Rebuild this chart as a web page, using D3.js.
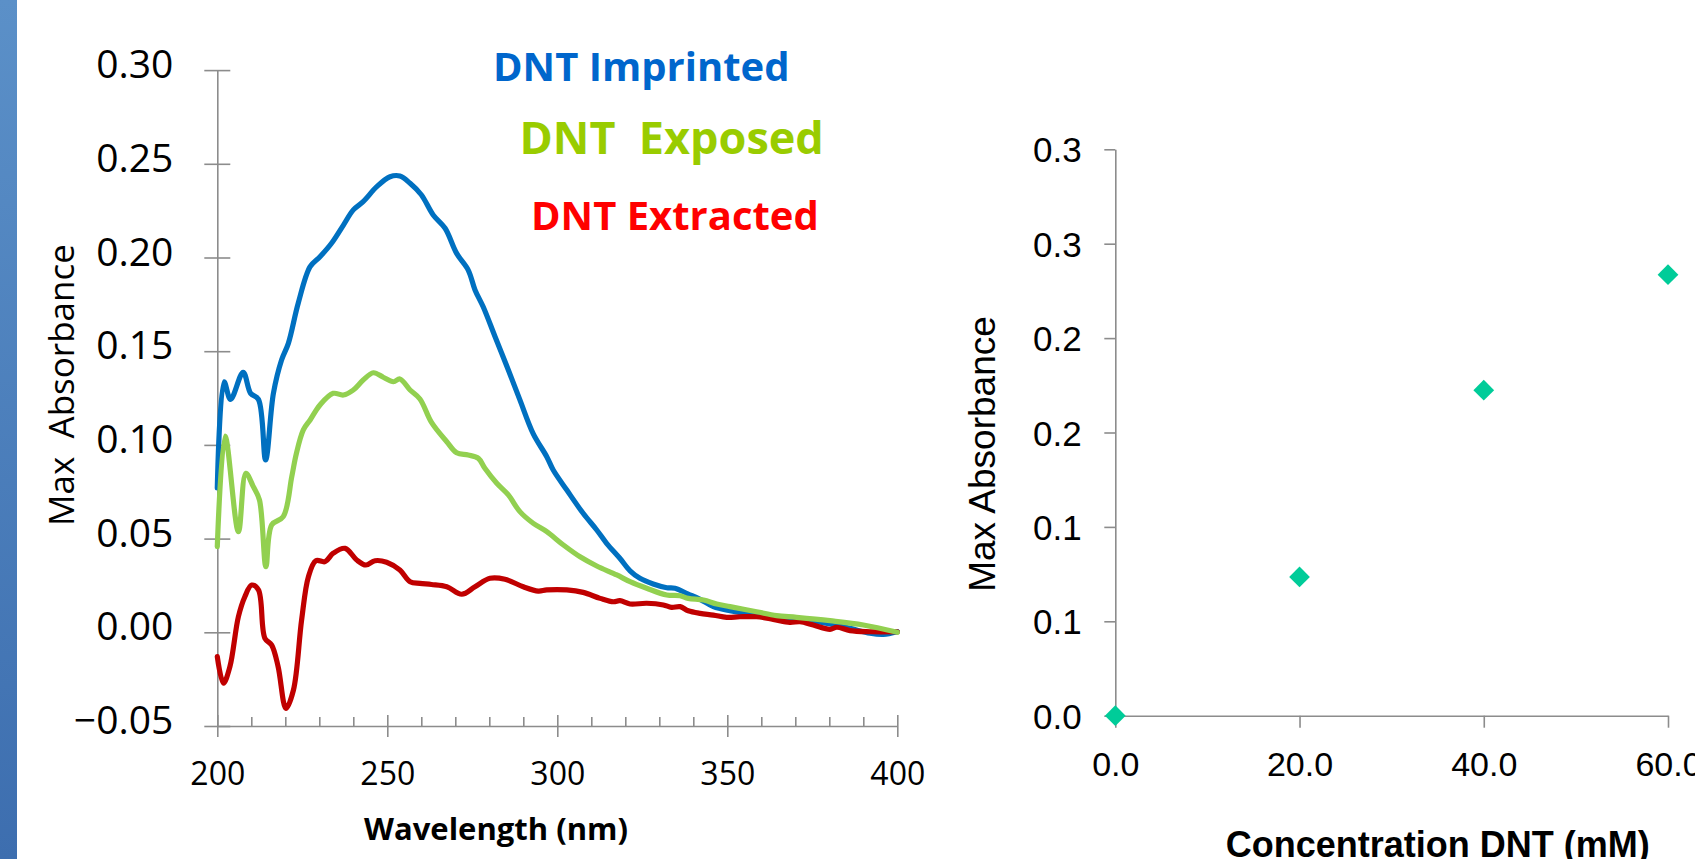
<!DOCTYPE html>
<html>
<head>
<meta charset="utf-8">
<script src="https://cdn.jsdelivr.net/npm/d3@7"></script>
<style>
  html, body { margin: 0; padding: 0; background: #ffffff; }
  svg { display: block; }
</style>
</head>
<body>
<script>
// ---------- Data ----------
// Left chart: UV spectra
const imprintedWl = [200, 202, 203.9, 207.6, 209.8, 212.1, 214.2, 216.5, 218.9, 220.9, 223.8, 227.3, 230.2, 233.6, 237.1, 240, 242.9, 246.9, 250.8, 253.7, 256.7, 260, 263.5, 267, 270.4, 273.8, 275.8, 278.2, 281.7, 285.6, 289, 292.9, 296.9, 298.8, 302.8, 307.6, 311.6, 314.5, 318.4, 321.4, 324.3, 328.2, 332.2, 334.6, 338.5, 342, 345.9, 350.8, 356.7, 365.5, 373.3, 380.2, 386.1, 392, 395.9, 400];
const imprintedAbs = [0.077, 0.1337, 0.1243, 0.1387, 0.1275, 0.1243, 0.092, 0.1275, 0.1453, 0.1542, 0.1756, 0.1951, 0.2004, 0.2076, 0.2173, 0.2254, 0.2298, 0.2378, 0.2431, 0.2435, 0.2396, 0.2335, 0.2227, 0.2156, 0.2022, 0.1933, 0.1827, 0.1737, 0.1577, 0.14, 0.124, 0.106, 0.0937, 0.0866, 0.0759, 0.0635, 0.0546, 0.0475, 0.0395, 0.0328, 0.0288, 0.0258, 0.0238, 0.0235, 0.0204, 0.0176, 0.0137, 0.0115, 0.0098, 0.0083, 0.0066, 0.0044, 0.0021, -0.0005, -0.0011, 0.0003];

const exposedWl = [200, 202.3, 206.2, 208.4, 210.6, 212.4, 214.3, 216, 219.4, 221.9, 223.2, 225.3, 227.3, 230.2, 234.1, 237.1, 240, 242.9, 245.9, 248.8, 251.8, 253.7, 256.7, 259.6, 263, 267.5, 270.4, 273.8, 276.8, 278.7, 282.2, 285.6, 289, 292.9, 296.9, 301.8, 306.7, 311.6, 317.5, 321.4, 326.3, 332.2, 336.1, 338.5, 343, 346.9, 350.8, 358.6, 364.5, 370.4, 380.2, 390, 400];
const exposedAbs = [0.0457, 0.1047, 0.0537, 0.0848, 0.0777, 0.0706, 0.035, 0.0573, 0.0617, 0.083, 0.095, 0.108, 0.1133, 0.1213, 0.1275, 0.1266, 0.1293, 0.1346, 0.1385, 0.1361, 0.1337, 0.1352, 0.1293, 0.1245, 0.112, 0.1017, 0.0958, 0.0946, 0.0928, 0.0875, 0.0795, 0.0733, 0.0644, 0.0582, 0.0537, 0.0466, 0.0403, 0.0354, 0.0306, 0.027, 0.0235, 0.0199, 0.0195, 0.0181, 0.0172, 0.0151, 0.0137, 0.011, 0.0089, 0.008, 0.0062, 0.0039, 0.0];

const extractedWl = [200, 201.8, 203.7, 206.2, 208.1, 210.1, 212.1, 214, 216, 217.9, 220.2, 222.4, 224.8, 226.8, 229, 231.7, 234.1, 237.6, 241, 243.7, 246.4, 249.8, 253.7, 256.7, 259.6, 263, 267.5, 271.9, 275.8, 280.2, 284.6, 290, 294.4, 296.9, 302.8, 307.6, 312.6, 316.5, 318.4, 321.4, 326.3, 331.2, 333.6, 336.1, 338.5, 342, 345.9, 349.8, 353.7, 358.6, 363.5, 368.4, 371.4, 375.3, 380.2, 382.2, 386.1, 392, 400];
const extractedAbs = [-0.013, -0.0272, -0.0184, 0.0083, 0.019, 0.0252, 0.0226, -0.0032, -0.0068, -0.0184, -0.0406, -0.0308, 0.0066, 0.0297, 0.0382, 0.0377, 0.0422, 0.0448, 0.0386, 0.0359, 0.0382, 0.0374, 0.0332, 0.027, 0.0261, 0.0255, 0.0243, 0.0203, 0.0243, 0.0288, 0.0283, 0.0243, 0.022, 0.0226, 0.0226, 0.0213, 0.0181, 0.0163, 0.0169, 0.0151, 0.0155, 0.0146, 0.0133, 0.0137, 0.0115, 0.0101, 0.0092, 0.008, 0.0083, 0.0083, 0.0069, 0.0053, 0.0057, 0.0039, 0.0016, 0.0027, 0.0009, 0.0003, 0.0003];

const seriesNames = ["DNT Imprinted", "DNT  Exposed", "DNT Extracted"];
const leftYTicks = [-0.05, 0, 0.05, 0.10, 0.15, 0.20, 0.25, 0.30];
const leftYTickLabels = ["\u22120.05", "0.00", "0.05", "0.10", "0.15", "0.20", "0.25", "0.30"];
const leftXMajor = [200, 250, 300, 350, 400];
const leftXMinor = [210, 220, 230, 240, 260, 270, 280, 290, 310, 320, 330, 340, 360, 370, 380, 390];

// Right chart: calibration scatter
const concentration = [0, 20, 40, 60];
const maxAbsorbance = [0, 0.0735, 0.1724, 0.2336];
const rightYTicks = [0, 0.05, 0.10, 0.15, 0.20, 0.25, 0.30];
const rightYTickLabels = ["0.0", "0.1", "0.1", "0.2", "0.2", "0.3", "0.3"];
const rightXTicks = [0, 20, 40, 60];
const rightXTickLabels = ["0.0", "20.0", "40.0", "60.0"];

// ---------- Drawing ----------
const W = 1695, H = 859;
const svg = d3.select("body").append("svg").attr("width", W).attr("height", H);

// side bar
const defs = svg.append("defs");
const grad = defs.append("linearGradient").attr("id", "sidebar").attr("x1", 0).attr("y1", 0).attr("x2", 0).attr("y2", 1);
grad.append("stop").attr("offset", "0%").attr("stop-color", "#5b90c8");
grad.append("stop").attr("offset", "100%").attr("stop-color", "#3d6eaf");
svg.append("rect").attr("x", 0).attr("y", 0).attr("width", 17).attr("height", H).attr("fill", "url(#sidebar)");

const AXIS = "#8c8c8c";
const leftFont = "'Open Sans', 'DejaVu Sans', sans-serif";
const rightFont = "'Liberation Sans', Arial, sans-serif";

// ----- Left chart -----
const xL = d3.scaleLinear().domain([200, 400]).range([217.3, 897.3]);
const yL = d3.scaleLinear().domain([-0.05, 0.30]).range([726, 70.1]);

const gyL = svg.append("g").attr("transform", `translate(${xL(200)},0)`)
  .call(d3.axisLeft(yL).tickValues(leftYTicks).tickFormat((d, i) => leftYTickLabels[i]).tickSize(13).tickSizeOuter(0));
gyL.select(".domain").attr("stroke", AXIS).attr("stroke-width", 1.6);
gyL.selectAll(".tick line").attr("x1", 13).attr("stroke", AXIS).attr("stroke-width", 1.6);
gyL.selectAll(".tick text").attr("x", -44).attr("dy", 0).attr("y", 7.5)
  .attr("font-family", leftFont).attr("font-size", 39).attr("fill", "#000");

const gxL = svg.append("g").attr("transform", `translate(0,${yL(-0.05)})`)
  .call(d3.axisBottom(xL).tickValues(leftXMajor).tickFormat(d3.format("d")).tickSize(11).tickSizeOuter(0));
gxL.select(".domain").attr("stroke", AXIS).attr("stroke-width", 1.6);
gxL.selectAll(".tick line").attr("y1", -11).attr("stroke", AXIS).attr("stroke-width", 1.6);
gxL.selectAll(".tick text").attr("y", 59).attr("dy", 0)
  .attr("font-family", leftFont).attr("font-size", 32).attr("fill", "#000");

const gxLm = svg.append("g").attr("transform", `translate(0,${yL(-0.05)})`)
  .call(d3.axisTop(xL).tickValues(leftXMinor).tickFormat("").tickSize(9).tickSizeOuter(0));
gxLm.select(".domain").remove();
gxLm.selectAll(".tick line").attr("stroke", AXIS).attr("stroke-width", 1.6);

svg.append("text").attr("x", 496).attr("y", 840).attr("text-anchor", "middle")
  .attr("font-family", leftFont).attr("font-weight", "bold").attr("font-size", 31).attr("fill", "#000")
  .text("Wavelength (nm)");
svg.append("text").attr("transform", "translate(74,385) rotate(-90)").attr("text-anchor", "middle")
  .attr("font-family", leftFont).attr("font-size", 35).attr("fill", "#000")
  .style("white-space", "pre").attr("xml:space", "preserve")
  .text("Max  Absorbance");

const line = d3.line().x(d => xL(d[0])).y(d => yL(d[1])).curve(d3.curveCatmullRom.alpha(0.5));
const leftSeries = [
  { wl: imprintedWl, ab: imprintedAbs, color: "#0070C0" },
  { wl: extractedWl, ab: extractedAbs, color: "#C00000" },
  { wl: exposedWl, ab: exposedAbs, color: "#92D050" }
];
leftSeries.forEach(s => {
  svg.append("path").datum(d3.zip(s.wl, s.ab)).attr("d", line)
    .attr("fill", "none").attr("stroke", s.color).attr("stroke-width", 5.2)
    .attr("stroke-linejoin", "round").attr("stroke-linecap", "round");
});

// legend texts
const legend = [
  { text: seriesNames[0], x: 493, y: 80.7, color: "#0066CC", size: 40 },
  { text: seriesNames[1], x: 519.5, y: 154, color: "#99CC00", size: 45 },
  { text: seriesNames[2], x: 531, y: 230, color: "#FF0000", size: 40 }
];
legend.forEach(l => {
  svg.append("text").attr("x", l.x).attr("y", l.y)
    .attr("font-family", leftFont).attr("font-weight", "bold").attr("font-size", l.size)
    .attr("fill", l.color).style("white-space", "pre").attr("xml:space", "preserve").text(l.text);
});

// ----- Right chart -----
const xR = d3.scaleLinear().domain([0, 60]).range([1115.3, 1668]);
const yR = d3.scaleLinear().domain([0, 0.30]).range([715.7, 149.3]);

const gyR = svg.append("g").attr("transform", `translate(${xR(0)},0)`)
  .call(d3.axisLeft(yR).tickValues(rightYTicks).tickFormat((d, i) => rightYTickLabels[i]).tickSize(11).tickSizeOuter(0));
gyR.select(".domain").attr("stroke", AXIS).attr("stroke-width", 1.6);
gyR.selectAll(".tick line").attr("stroke", AXIS).attr("stroke-width", 1.6);
gyR.selectAll(".tick text").attr("x", -33.6).attr("dy", "0.36em")
  .attr("font-family", rightFont).attr("font-size", 35).attr("fill", "#000");

const gxR = svg.append("g").attr("transform", `translate(0,${yR(0)})`)
  .call(d3.axisBottom(xR).tickValues(rightXTicks).tickFormat((d, i) => rightXTickLabels[i]).tickSize(12).tickSizeOuter(0));
gxR.select(".domain").attr("stroke", AXIS).attr("stroke-width", 1.6);
gxR.selectAll(".tick line").attr("stroke", AXIS).attr("stroke-width", 1.6);
gxR.selectAll(".tick text").attr("y", 60).attr("dy", 0)
  .attr("font-family", rightFont).attr("font-size", 34).attr("fill", "#000");

svg.append("text").attr("transform", "translate(995,454) rotate(-90)").attr("text-anchor", "middle")
  .attr("font-family", rightFont).attr("font-size", 37).attr("fill", "#000")
  .text("Max Absorbance");
svg.append("text").attr("x", 1437.7).attr("y", 857).attr("text-anchor", "middle")
  .attr("font-family", rightFont).attr("font-weight", "bold").attr("font-size", 36).attr("fill", "#000")
  .text("Concentration DNT (mM)");

const diamond = d3.symbol().type(d3.symbolSquare).size(215);
svg.append("g").selectAll("path").data(d3.zip(concentration, maxAbsorbance)).join("path")
  .attr("d", diamond)
  .attr("transform", d => `translate(${xR(d[0])},${yR(d[1])}) rotate(45)`)
  .attr("fill", "#00CC99");
</script>
</body>
</html>
